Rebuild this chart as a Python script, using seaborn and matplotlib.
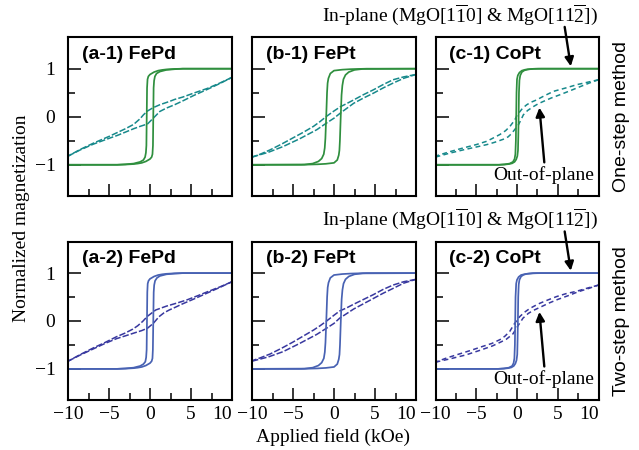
import matplotlib
matplotlib.use("Agg")
import matplotlib.pyplot as plt
import numpy as np
import pandas as pd
import seaborn as sns

# ---------------- data: field H (kOe) and normalized magnetization M ----------------
# "down" = branch swept from +10 to -10 kOe, "up" = branch swept from -10 to +10 kOe

# (a-1) FePd, one-step
A1_IN_DOWN_H = [10, 4, 3, 2, 1.5, 1, 0.5, 0, -0.2, -0.3, -0.36, -0.4, -0.44, -0.5, -0.6, -0.8, -1.2, -2, -3, -4, -10]
A1_IN_DOWN_M = [1, 1, 0.995, 0.985, 0.975, 0.96, 0.93, 0.88, 0.84, 0.78, 0.6, 0.0, -0.6, -0.75, -0.84, -0.9, -0.94, -0.975, -0.99, -1, -1]
A1_IN_UP_H = [-10, -4, -3, -2, -1.5, -1, -0.5, 0, 0.2, 0.3, 0.36, 0.4, 0.44, 0.5, 0.6, 0.8, 1.2, 2, 3, 4, 10]
A1_IN_UP_M = [-1, -1, -0.995, -0.985, -0.975, -0.96, -0.93, -0.88, -0.84, -0.78, -0.6, 0.0, 0.6, 0.75, 0.84, 0.9, 0.94, 0.975, 0.99, 1, 1]
A1_OUT_DOWN_H = [10, 8.5, 7, 5.3, 4, 3, 2.4, 1.2, 0.4, -0.3, -0.8, -1.2, -2, -3, -4, -5, -6.9, -8.5, -10]
A1_OUT_DOWN_M = [0.82, 0.7, 0.59, 0.49, 0.41, 0.36, 0.32, 0.25, 0.19, 0.12, 0.04, -0.04, -0.16, -0.25, -0.33, -0.41, -0.55, -0.68, -0.82]
A1_OUT_UP_H = [-10, -8.5, -6.9, -5, -4, -3, -2, -1.2, -0.3, 0.4, 0.8, 1.2, 2, 3, 4, 5.3, 7, 8.5, 10]
A1_OUT_UP_M = [-0.82, -0.69, -0.57, -0.45, -0.39, -0.32, -0.25, -0.2, -0.15, -0.03, 0.04, 0.11, 0.18, 0.25, 0.33, 0.44, 0.57, 0.69, 0.82]

# (b-1) FePt, one-step
B1_IN_DOWN_H = [10, 4, 3, 2, 1, 0, -0.45, -0.68, -0.78, -0.85, -0.95, -1.05, -1.13, -1.25, -1.5, -1.9, -2.6, -3.6, -10]
B1_IN_DOWN_M = [1, 1, 0.995, 0.99, 0.98, 0.96, 0.9, 0.8, 0.7, 0.5, 0, -0.45, -0.65, -0.78, -0.87, -0.93, -0.975, -0.995, -1]
B1_IN_UP_H = [-10, -4, -3, -2, -1, 0, 0.4, 0.58, 0.66, 0.72, 0.82, 0.92, 1.02, 1.15, 1.4, 1.8, 2.5, 3.5, 10]
B1_IN_UP_M = [-1, -1, -0.995, -0.99, -0.98, -0.96, -0.9, -0.8, -0.7, -0.5, 0, 0.45, 0.65, 0.78, 0.87, 0.93, 0.975, 0.995, 1]
B1_OUT_DOWN_H = [10, 8.5, 7.2, 6, 4.8, 3.6, 2.4, 1.5, 0.8, 0, -0.9, -1.7, -2.5, -3.7, -5, -6.4, -7.8, -9, -10]
B1_OUT_DOWN_M = [0.88, 0.83, 0.77, 0.67, 0.56, 0.46, 0.35, 0.27, 0.21, 0.12, 0.01, -0.1, -0.2, -0.32, -0.44, -0.57, -0.69, -0.78, -0.84]
B1_OUT_UP_H = [-10, -8, -6.2, -4.2, -2.1, -0.9, 0, 0.8, 1.6, 2.4, 3.6, 4.8, 6, 7.2, 8.5, 10]
B1_OUT_UP_M = [-0.84, -0.74, -0.62, -0.46, -0.27, -0.13, -0.03, 0.08, 0.18, 0.28, 0.39, 0.49, 0.6, 0.7, 0.8, 0.88]

# (c-1) CoPt, one-step
C1_IN_DOWN_H = [10, 3, 2, 1.5, 1, 0.6, 0.3, 0.1, 0, -0.06, -0.1, -0.14, -0.2, -0.3, -0.5, -0.9, -1.5, -2.2, -10]
C1_IN_DOWN_M = [1, 1, 0.997, 0.99, 0.98, 0.96, 0.92, 0.86, 0.78, 0.5, 0, -0.5, -0.78, -0.88, -0.94, -0.975, -0.99, -1, -1]
C1_IN_UP_H = [-10, -2.2, -1.5, -1, -0.6, -0.3, -0.1, 0.04, 0.12, 0.16, 0.2, 0.24, 0.3, 0.4, 0.6, 0.9, 1.3, 2, 2.6, 10]
C1_IN_UP_M = [-1, -1, -0.995, -0.985, -0.97, -0.94, -0.89, -0.82, -0.7, -0.4, 0, 0.5, 0.76, 0.86, 0.93, 0.965, 0.985, 0.997, 1, 1]
C1_OUT_DOWN_H = [10, 8.7, 7.4, 6, 4.5, 3.4, 2.4, 1.7, 1.2, 0.7, 0.37, 0, -0.25, -0.55, -0.86, -1.4, -2.1, -3, -3.7, -5, -6.6, -8.3, -10]
C1_OUT_DOWN_M = [0.77, 0.72, 0.67, 0.6, 0.53, 0.44, 0.35, 0.3, 0.25, 0.18, 0.11, 0.03, -0.06, -0.13, -0.2, -0.29, -0.37, -0.45, -0.51, -0.58, -0.65, -0.73, -0.82]
C1_OUT_UP_H = [-10, -8.3, -6.6, -5, -3.7, -2.7, -1.7, -1.1, -0.66, -0.25, 0.17, 0.5, 0.78, 1.3, 2, 2.6, 3.25, 4.2, 5.3, 6.5, 7.8, 9, 10]
C1_OUT_UP_M = [-0.84, -0.76, -0.69, -0.63, -0.58, -0.53, -0.47, -0.42, -0.35, -0.26, -0.17, -0.06, 0.04, 0.13, 0.21, 0.27, 0.32, 0.39, 0.46, 0.54, 0.63, 0.71, 0.77]

# (a-2) FePd, two-step
A2_IN_DOWN_H = [10, 4, 3, 2, 1.5, 1, 0.5, 0, -0.18, -0.28, -0.33, -0.37, -0.41, -0.47, -0.57, -0.8, -1.2, -2, -3, -4, -10]
A2_IN_DOWN_M = [1, 1, 0.995, 0.985, 0.975, 0.96, 0.93, 0.88, 0.84, 0.78, 0.6, 0.0, -0.6, -0.76, -0.85, -0.9, -0.94, -0.975, -0.99, -1, -1]
A2_IN_UP_H = [-10, -4, -3, -2, -1.5, -1, -0.5, 0, 0.2, 0.3, 0.35, 0.4, 0.45, 0.51, 0.62, 0.85, 1.2, 2, 3, 4, 10]
A2_IN_UP_M = [-1, -1, -0.995, -0.985, -0.975, -0.96, -0.93, -0.88, -0.84, -0.78, -0.6, 0.0, 0.6, 0.75, 0.84, 0.9, 0.94, 0.975, 0.99, 1, 1]
A2_OUT_DOWN_H = [10, 8.5, 7, 6, 4.5, 3.2, 2, 0.7, -0.3, -0.9, -1.5, -2.1, -3, -4.1, -5.5, -7, -8.5, -10]
A2_OUT_DOWN_M = [0.82, 0.71, 0.61, 0.54, 0.44, 0.37, 0.31, 0.23, 0.1, -0.01, -0.1, -0.17, -0.25, -0.33, -0.45, -0.57, -0.7, -0.84]
A2_OUT_UP_H = [-10, -8.5, -7, -5.5, -4.1, -3, -2.1, -1, -0.3, 0.4, 1.1, 1.7, 2.35, 3, 4, 5.5, 6.8, 8.5, 10]
A2_OUT_UP_M = [-0.84, -0.71, -0.59, -0.47, -0.37, -0.31, -0.26, -0.2, -0.15, -0.05, 0.09, 0.17, 0.23, 0.28, 0.36, 0.47, 0.57, 0.7, 0.82]

# (b-2) FePt, two-step
B2_IN_DOWN_H = [10, 4, 3, 2, 1, 0, -0.45, -0.67, -0.77, -0.84, -0.94, -1.04, -1.12, -1.24, -1.5, -1.9, -2.6, -3.6, -10]
B2_IN_DOWN_M = [1, 1, 0.995, 0.99, 0.98, 0.96, 0.9, 0.8, 0.7, 0.5, 0, -0.45, -0.65, -0.78, -0.87, -0.93, -0.975, -0.995, -1]
B2_IN_UP_H = [-10, -4, -3, -2, -1, 0, 0.4, 0.58, 0.67, 0.73, 0.83, 0.93, 1.03, 1.16, 1.4, 1.8, 2.5, 3.5, 10]
B2_IN_UP_M = [-1, -1, -0.995, -0.99, -0.98, -0.96, -0.9, -0.8, -0.7, -0.5, 0, 0.45, 0.65, 0.78, 0.87, 0.93, 0.975, 0.995, 1]
B2_OUT_DOWN_H = [10, 8.5, 7.2, 6, 4.8, 3.6, 2.4, 1.5, 0.7, 0, -0.9, -1.7, -2.5, -3.7, -5, -6.4, -7.8, -9, -10]
B2_OUT_DOWN_M = [0.87, 0.82, 0.75, 0.66, 0.55, 0.45, 0.35, 0.27, 0.21, 0.12, 0.0, -0.1, -0.19, -0.31, -0.44, -0.57, -0.69, -0.77, -0.83]
B2_OUT_UP_H = [-10, -8, -6.2, -4.2, -2.1, -0.9, 0, 0.7, 1.6, 2.4, 3.6, 4.8, 6, 7.2, 8.5, 10]
B2_OUT_UP_M = [-0.84, -0.75, -0.64, -0.47, -0.28, -0.15, -0.05, 0.06, 0.16, 0.25, 0.36, 0.47, 0.58, 0.68, 0.79, 0.87]

# (c-2) CoPt, two-step
C2_IN_DOWN_H = [10, 3, 2, 1.5, 1, 0.5, 0.2, 0, -0.1, -0.18, -0.22, -0.26, -0.32, -0.42, -0.6, -1, -1.6, -2.3, -10]
C2_IN_DOWN_M = [1, 1, 0.997, 0.99, 0.98, 0.96, 0.92, 0.86, 0.78, 0.5, 0, -0.5, -0.78, -0.88, -0.94, -0.975, -0.99, -1, -1]
C2_IN_UP_H = [-10, -2.3, -1.6, -1.1, -0.7, -0.4, -0.2, -0.06, 0.03, 0.07, 0.11, 0.15, 0.21, 0.3, 0.5, 0.8, 1.2, 1.9, 2.5, 10]
C2_IN_UP_M = [-1, -1, -0.995, -0.985, -0.97, -0.94, -0.89, -0.82, -0.7, -0.4, 0, 0.5, 0.76, 0.86, 0.93, 0.965, 0.985, 0.997, 1, 1]
C2_OUT_DOWN_H = [10, 8.7, 7.3, 6, 4.86, 3.8, 2.8, 2.1, 1.56, 0.9, 0.33, -0.29, -0.9, -1.5, -2.1, -3.1, -4.2, -5.6, -7.1, -8.6, -10]
C2_OUT_DOWN_M = [0.75, 0.69, 0.62, 0.57, 0.51, 0.44, 0.37, 0.31, 0.26, 0.18, 0.09, -0.05, -0.22, -0.32, -0.39, -0.47, -0.53, -0.61, -0.69, -0.77, -0.86]
C2_OUT_UP_H = [-10, -8.2, -6.3, -4.5, -3, -2, -1.3, -0.5, 0.12, 0.74, 1.4, 2, 3, 4, 5, 6.3, 7.5, 8.8, 10]
C2_OUT_UP_M = [-0.86, -0.79, -0.71, -0.61, -0.52, -0.44, -0.38, -0.27, -0.1, 0.06, 0.16, 0.22, 0.3, 0.38, 0.45, 0.53, 0.61, 0.68, 0.75]

PANEL_TITLES = ["(a-1) FePd", "(b-1) FePt", "(c-1) CoPt",
                "(a-2) FePd", "(b-2) FePt", "(c-2) CoPt"]
ROW_LABELS = ["One-step method", "Two-step method"]
X_TICKS = [-10, -5, 0, 5, 10]
Y_TICKS = [-1, 0, 1]

# ---------------- assemble a long table ----------------
branches = {
    "a1": (A1_IN_DOWN_H, A1_IN_DOWN_M, A1_IN_UP_H, A1_IN_UP_M,
           A1_OUT_DOWN_H, A1_OUT_DOWN_M, A1_OUT_UP_H, A1_OUT_UP_M),
    "b1": (B1_IN_DOWN_H, B1_IN_DOWN_M, B1_IN_UP_H, B1_IN_UP_M,
           B1_OUT_DOWN_H, B1_OUT_DOWN_M, B1_OUT_UP_H, B1_OUT_UP_M),
    "c1": (C1_IN_DOWN_H, C1_IN_DOWN_M, C1_IN_UP_H, C1_IN_UP_M,
           C1_OUT_DOWN_H, C1_OUT_DOWN_M, C1_OUT_UP_H, C1_OUT_UP_M),
    "a2": (A2_IN_DOWN_H, A2_IN_DOWN_M, A2_IN_UP_H, A2_IN_UP_M,
           A2_OUT_DOWN_H, A2_OUT_DOWN_M, A2_OUT_UP_H, A2_OUT_UP_M),
    "b2": (B2_IN_DOWN_H, B2_IN_DOWN_M, B2_IN_UP_H, B2_IN_UP_M,
           B2_OUT_DOWN_H, B2_OUT_DOWN_M, B2_OUT_UP_H, B2_OUT_UP_M),
    "c2": (C2_IN_DOWN_H, C2_IN_DOWN_M, C2_IN_UP_H, C2_IN_UP_M,
           C2_OUT_DOWN_H, C2_OUT_DOWN_M, C2_OUT_UP_H, C2_OUT_UP_M),
}
records = []
for key, arrs in branches.items():
    names = [("in", "down"), ("in", "up"), ("out", "down"), ("out", "up")]
    for i, (kind, sweep) in enumerate(names):
        h, m = arrs[2 * i], arrs[2 * i + 1]
        for j, (hv, mv) in enumerate(zip(h, m)):
            records.append(dict(panel=key, kind=kind, sweep=sweep, order=j, H=hv, M=mv))
df = pd.DataFrame(records)

# ---------------- style ----------------
sns.set_theme(style="ticks")
plt.rcParams.update({
    "font.family": ["Liberation Serif", "DejaVu Serif"],
    "mathtext.fontset": "custom",
    "mathtext.rm": "Liberation Serif",
    "mathtext.it": "Liberation Serif:italic",
    "mathtext.bf": "Liberation Serif:bold",
    "axes.edgecolor": "black",
    "axes.linewidth": 1.5,
    "text.color": "black",
    "xtick.color": "black",
    "ytick.color": "black",
    "axes.unicode_minus": True,
})

COLORS = {1: ("#2f8f3e", "#17898b"), 2: ("#4862b3", "#38389f")}

W, Hpx = 639, 450
fig = plt.figure(figsize=(W / 100, Hpx / 100), dpi=100)

col_left = [68, 252, 435.5]
col_w = [164, 164, 163]
row_top = [37, 241.5]
row_h = [159, 158.5]

keys = [["a1", "b1", "c1"], ["a2", "b2", "c2"]]
axes = {}
for r in range(2):
    for c in range(3):
        left = col_left[c] / W
        bottom = (Hpx - row_top[r] - row_h[r]) / Hpx
        ax = fig.add_axes([left, bottom, col_w[c] / W, row_h[r] / Hpx])
        key = keys[r][c]
        axes[key] = ax
        color_in, color_out = COLORS[r + 1]
        dash = (0, (4.2, 1.4)) if c < 2 else (0, (3.2, 2.2))
        sub_out = df[(df.panel == key) & (df.kind == "out")]
        sub_in = df[(df.panel == key) & (df.kind == "in")]
        sns.lineplot(data=sub_out, x="H", y="M", units="sweep", estimator=None,
                     sort=False, color=color_out, lw=1.1, linestyle=dash,
                     ax=ax, legend=False)
        sns.lineplot(data=sub_in, x="H", y="M", units="sweep", estimator=None,
                     sort=False, color=color_in, lw=1.25, ax=ax, legend=False)
        ax.set_xlim(-10, 10)
        ax.set_ylim(-1.65, 1.66)
        ax.set_xlabel("")
        ax.set_ylabel("")
        ax.set_xticks(X_TICKS)
        ax.set_xticks([-7.5, -2.5, 2.5, 7.5], minor=True)
        ax.set_yticks(Y_TICKS)
        ax.set_yticks([-0.5, 0.5], minor=True)
        ax.tick_params(which="both", direction="in", top=False, right=False,
                       width=1.1, labelsize=14)
        ax.tick_params(which="major", length=9)
        ax.tick_params(which="minor", length=4.8)
        ax.tick_params(axis="y", pad=9)
        ax.tick_params(axis="x", pad=4)
        if c > 0:
            ax.tick_params(labelleft=False)
        if r == 0:
            ax.tick_params(labelbottom=False)
        else:
            # the last label sits inside the frame so it clears the next panel
            ax.xaxis.get_major_ticks()[-1].label1.set_horizontalalignment("right")
        for sp in ax.spines.values():
            sp.set_linewidth(1.5)
            sp.set_color("black")
        ax.text(0.084, 0.893, PANEL_TITLES[3 * r + c], transform=ax.transAxes,
                family=["Liberation Sans", "DejaVu Sans"], fontweight="bold",
                fontsize=14, va="center", ha="left")

# ---------------- annotations ----------------
inplane_label = r"In-plane (MgO[$\mathrm{1\overline{1}0}$] & MgO[$\mathrm{11\overline{2}}$])"
arrow_kw = dict(arrowstyle="-|>", lw=1.7, color="black", mutation_scale=13,
                shrinkA=0, shrinkB=0)
for r, key in enumerate(["c1", "c2"]):
    ax = axes[key]
    y_text = 15 if r == 0 else 219
    fig.text(598 / W, 1 - y_text / Hpx, inplane_label, ha="right", va="center",
             fontsize=14)
    ax.annotate("", xy=(6.6, 1.05), xytext=(5.85, 1.87), arrowprops=arrow_kw,
                annotation_clip=False)
    ax.annotate("", xy=(2.75, 0.19), xytext=(3.35, -0.95), arrowprops=arrow_kw,
                annotation_clip=False)
    ax.text(3.3, -1.22, "Out-of-plane", ha="center", va="center", fontsize=14)

fig.text(622 / W, 1 - 116.5 / Hpx, ROW_LABELS[0], rotation=90, ha="center",
         va="center", fontsize=14, family=["Liberation Sans", "DejaVu Sans"])
fig.text(622 / W, 1 - 320.7 / Hpx, ROW_LABELS[1], rotation=90, ha="center",
         va="center", fontsize=14, family=["Liberation Sans", "DejaVu Sans"])
fig.text(22 / W, 1 - 218 / Hpx, "Normalized magnetization", rotation=90,
         ha="center", va="center", fontsize=14)
fig.text(333 / W, 1 - 437 / Hpx, "Applied field (kOe)", ha="center",
         va="center", fontsize=14)

fig.savefig("out.png", dpi=100)
